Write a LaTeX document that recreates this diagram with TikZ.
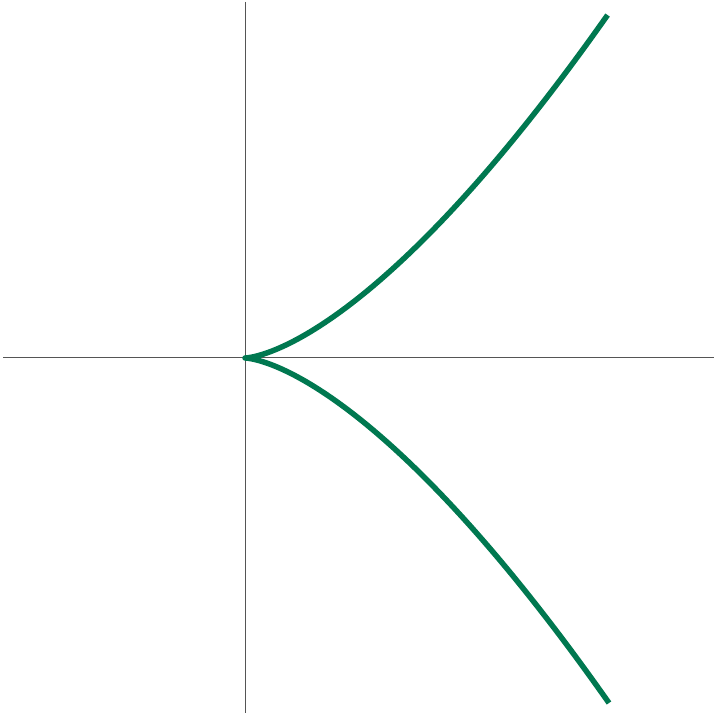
\documentclass[tikz,border=0pt]{standalone}
\definecolor{curvegreen}{RGB}{0,120,80}
\definecolor{axisgray}{RGB}{85,85,85}
\begin{document}
\begin{tikzpicture}[x=1pt,y=1pt,
  axisline/.style={draw=axisgray,line width=1pt},
  cusp/.style={draw=curvegreen,line width=5.5pt,line join=round}]
\useasboundingbox (0,0) rectangle (720,720);
\coordinate (O) at (245,362);
\coordinate (xl) at (3,362);
\coordinate (xr) at (714,362);
\coordinate (yt) at (245,718);
\coordinate (yb) at (245,7);
\draw[axisline] (xl) -- (xr);
\draw[axisline] (yt) -- (yb);
\begin{scope}[shift={(O)}]
\draw[cusp] plot[domain=-1:1,samples=200,variable=\t] ({364*\t*\t},{345*\t*\t*\t});
\end{scope}
\end{tikzpicture}
\end{document}
